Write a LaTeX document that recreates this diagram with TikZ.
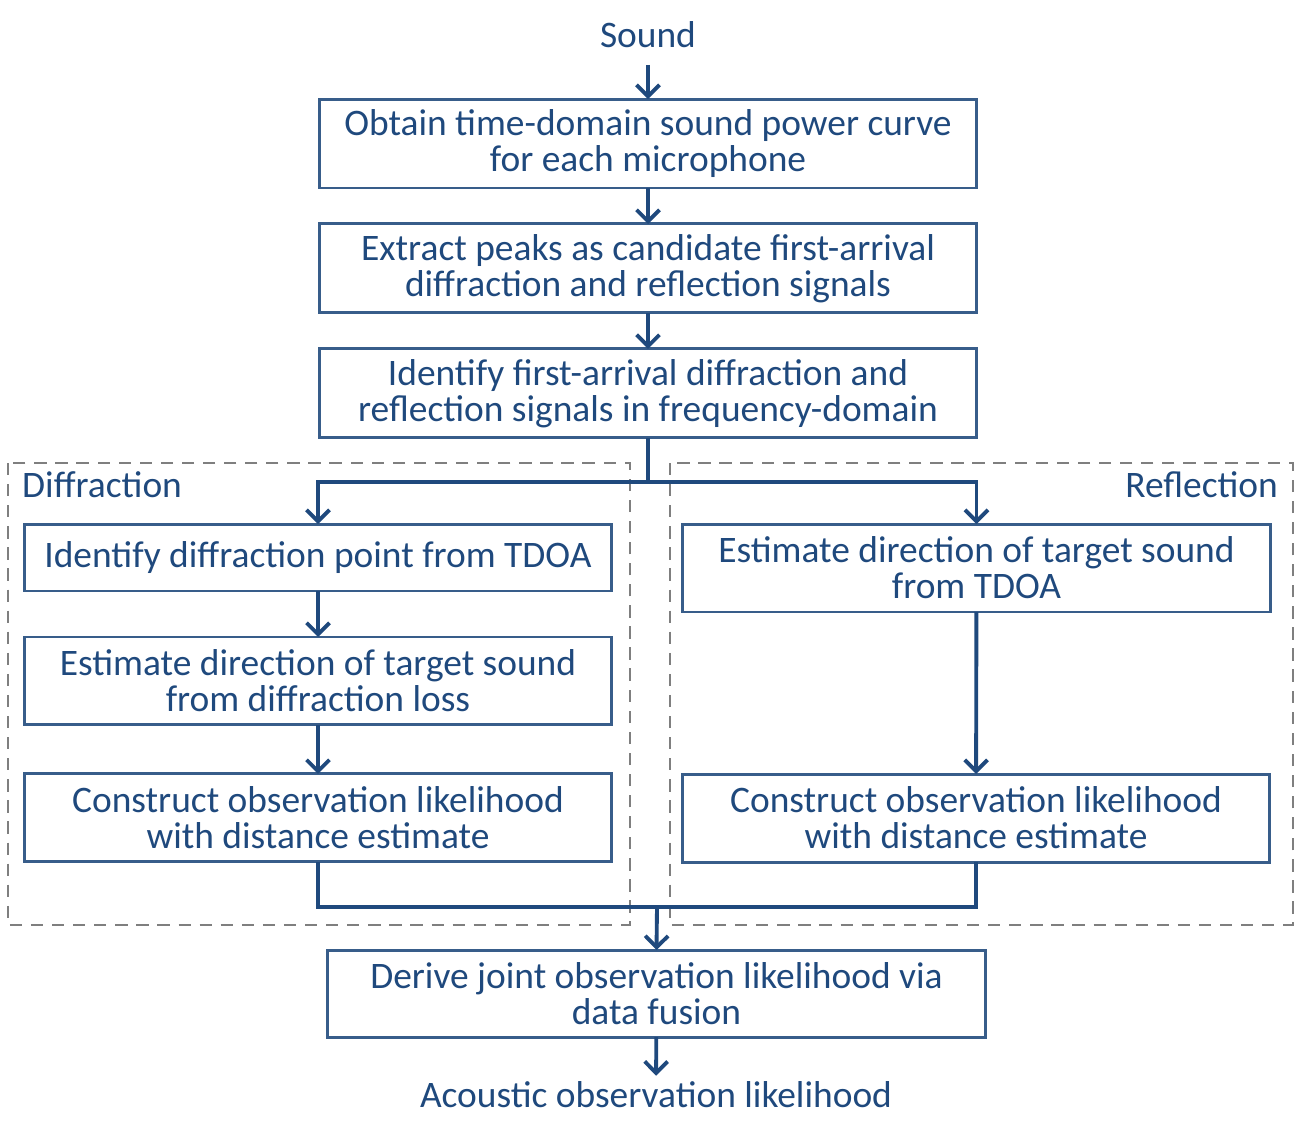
\documentclass[tikz,border=0pt]{standalone}
\usepackage{fontspec}
\setmainfont{Carlito}
\usetikzlibrary{positioning}
\usetikzlibrary{arrows.meta}
\definecolor{textblue}{HTML}{1F497D}
\definecolor{boxblue}{HTML}{385D8A}
\definecolor{groupgray}{HTML}{7F7F7F}
\tikzset{x=0.02cm, y=-0.02cm,   % One unit is one pixel of the layout
    every node/.style={         % Sets the text of every node
        text=textblue,
        font=\fontsize{21.3}{20.5}\selectfont},
    stepbox/.style={            % Sets the properties for each box
        draw=boxblue,
        line width=1.7pt,
        align=center,
        inner sep=0pt,
        outer sep=0pt},
    wide/.style={stepbox, minimum width=13.16cm, minimum height=1.78cm},
    half/.style={stepbox, minimum width=11.76cm, minimum height=1.76cm},
    group/.style={              % Dashed frames of the two branches
        draw=groupgray,
        line width=1.6pt,
        dash pattern=on 7pt off 5pt},
    flow/.style={               % Plain connector lines
        draw=textblue,
        line width=2.2pt},
    arr/.style={                % Makes connectors directed
        flow,
        -{Straight Barb[length=6.5pt,width=13pt,line width=2.2pt]}}}
\begin{document}
\begin{tikzpicture}
        \useasboundingbox (0,0) rectangle (1301,1140);
        \draw[group] (8,463) rectangle (630,925);
        \draw[group] (670,463) rectangle (1293,925);
        \node[anchor=west] (difflabel) at (16,485) {Diffraction};
        \node[anchor=east] (refllabel) at (1284,485) {Reflection};

        \node (sound) at (648,35) {Sound};
        \node[wide] (obtain) at (648,143.5) {Obtain time-domain sound power curve\\for each microphone};
        \node[wide, below=0.72cm of obtain] (extract) {Extract peaks as candidate first-arrival\\diffraction and reflection signals};
        \node[wide, below=0.72cm of extract] (identify) {Identify first-arrival diffraction and\\reflection signals in frequency-domain};

        \node[half, minimum height=1.34cm] (point) at (318,557.5) {Identify diffraction point from TDOA};
        \node[half, below=0.92cm of point] (diffdir) {Estimate direction of target sound\\from diffraction loss};
        \node[half, below=0.98cm of diffdir] (dconstruct) {Construct observation likelihood\\with distance estimate};

        \node[half] (refdir) at (976.5,568) {Estimate direction of target sound\\from TDOA};
        \node[half] (rconstruct) at (976,818) {Construct observation likelihood\\with distance estimate};

        \node[wide, minimum height=1.74cm] (derive) at (656.5,993.5) {Derive joint observation likelihood via\\data fusion};
        \node (acoustic) at (656,1095) {Acoustic observation likelihood};

        \coordinate (split) at (648,482);
        \coordinate (merge) at (657,907);

        \draw[arr, shorten <=6pt] (sound) -- (obtain);
        \draw[arr] (obtain) -- (extract);
        \draw[arr] (extract) -- (identify);
        \draw[arr] (identify.south) -- (split) -| (point.north);
        \draw[arr] (split) -| (refdir.north);
        \draw[arr] (point) -- (diffdir);
        \draw[arr] (diffdir) -- (dconstruct);
        \draw[arr] (refdir) -- (rconstruct);
        \draw[flow] (dconstruct.south) |- (rconstruct.south |- merge) -- (rconstruct.south);
        \draw[arr] (merge) -- (derive.north);
        \draw[arr] (derive) -- (acoustic);
    \end{tikzpicture}
\end{document}
